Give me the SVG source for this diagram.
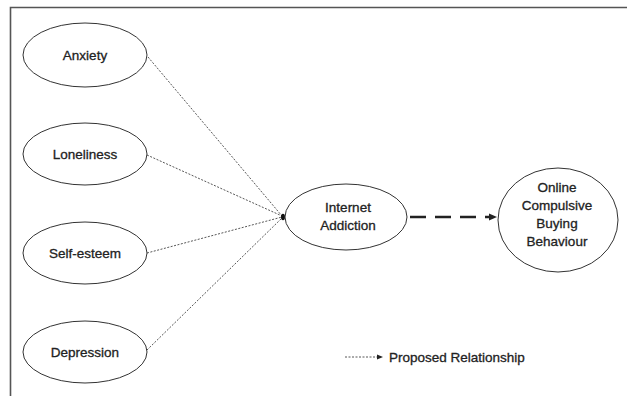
<svg xmlns="http://www.w3.org/2000/svg" width="627" height="396" viewBox="0 0 627 396">
  <style>
    .node ellipse { fill: #ffffff; stroke: #333333; stroke-width: 1; }
    .node text, .legend text { font-family: "Liberation Sans", Arial, sans-serif; font-size: 13.5px; fill: #222222; stroke: #222222; stroke-width: 0.3; text-anchor: middle; }
    .dotted { fill: none; stroke: #444444; stroke-width: 0.9; stroke-dasharray: 2 1.5; }
    .bold-dash { fill: none; stroke: #222222; stroke-width: 2.6; stroke-dasharray: 16 9; }
  </style>

  <rect width="627" height="396" fill="#ffffff"/>
  <!-- frame: top and left edges -->
  <path d="M10.5,396 L10.5,7.5 L627,7.5" fill="none" stroke="#555555" stroke-width="1.6"/>

  <g id="connectors">
    <line class="dotted" x1="148" y1="57" x2="282" y2="216"/>
    <line class="dotted" x1="147" y1="155" x2="282" y2="216"/>
    <line class="dotted" x1="147" y1="253" x2="282" y2="217"/>
    <line class="dotted" x1="147" y1="350" x2="282" y2="218"/>
    <ellipse cx="283" cy="217" rx="2" ry="3.2" fill="#111111"/>
    <line class="bold-dash" x1="410" y1="217" x2="490" y2="217"/>
    <path d="M489,213.5 L497,217 L489,220.5 Z" fill="#222222"/>
  </g>

  <g id="anxiety" class="node">
    <ellipse cx="85" cy="55" rx="62" ry="32"/>
    <text x="85" y="60">Anxiety</text>
  </g>
  <g id="loneliness" class="node">
    <ellipse cx="85" cy="154" rx="62" ry="31"/>
    <text x="85" y="159">Loneliness</text>
  </g>
  <g id="self-esteem" class="node">
    <ellipse cx="85" cy="253" rx="62" ry="31"/>
    <text x="85" y="258">Self-esteem</text>
  </g>
  <g id="depression" class="node">
    <ellipse cx="85" cy="352" rx="62" ry="31"/>
    <text x="85" y="357">Depression</text>
  </g>
  <g id="internet-addiction" class="node">
    <ellipse cx="346" cy="217" rx="61" ry="33"/>
    <text x="348" y="212">Internet</text>
    <text x="348" y="230">Addiction</text>
  </g>
  <g id="online-compulsive-buying" class="node">
    <ellipse cx="558" cy="220" rx="60" ry="52"/>
    <text x="557" y="192">Online</text>
    <text x="557" y="210">Compulsive</text>
    <text x="557" y="228">Buying</text>
    <text x="557" y="246">Behaviour</text>
  </g>

  <g id="legend" class="legend">
    <line class="dotted" x1="345" y1="357" x2="378" y2="357"/>
    <path d="M377,354.5 L383,357 L377,359.5 Z" fill="#222222"/>
    <text x="389" y="362" style="text-anchor: start;">Proposed Relationship</text>
  </g>
</svg>
